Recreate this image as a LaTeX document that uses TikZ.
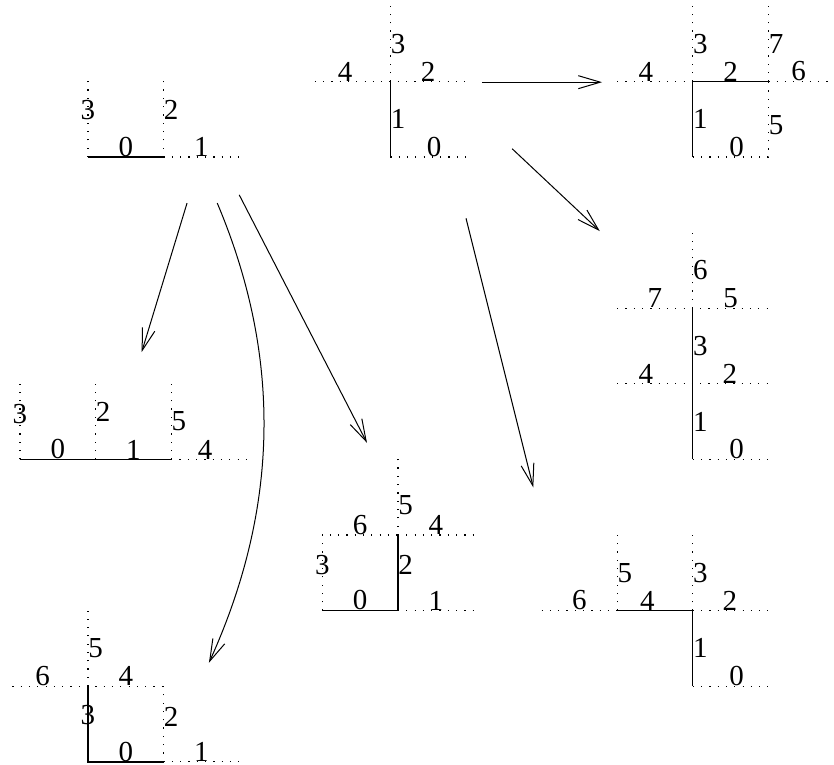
\documentclass[tikz,border=0pt]{standalone}
\usepackage{fontspec}
\setmainfont{Liberation Serif}
\usetikzlibrary{arrows.meta}
\tikzset{
  walk/.style={line width=0.7pt},
  freeedge/.style={line width=0.6pt,dash pattern=on 0.6pt off 3.55pt},
  lab/.style={inner sep=0pt,font=\fontsize{14.5}{16}\selectfont},
  hl/.style={lab,anchor=south},
  vl/.style={lab,anchor=west},
  cl/.style={lab,anchor=center},
  pijl/.style={line width=0.5pt,-{Straight Barb[length=11pt,width=6.5pt]}}
}
\begin{document}
\begin{tikzpicture}[x=37.8pt,y=37.8pt]
\useasboundingbox (-1.164,-8.042) rectangle (9.868,2.077);
% start: 0 with 1,2,3
\begin{scope}[shift={(0,0)}]
\draw[walk] (0,0)--(1,0);
\draw[freeedge] (1,0)--(2,0);
\draw[freeedge] (0,0)--(0,1);
\draw[freeedge] (1,0)--(1,1);
\node[hl] (a0) at (0.5,0) {0};
\node[hl] (a1) at (1.5,0) {1};
\node[cl] (a3) at (0,0.62) {3};
\node[vl] (a2) at (1,0.62) {2};
\end{scope}
% 1 up
\begin{scope}[shift={(4,0)}]
\draw[walk] (0,0)--(0,1);
\draw[freeedge] (0,0)--(1,0);
\draw[freeedge] (-1,1)--(1,1);
\draw[freeedge] (0,1)--(0,2);
\node[hl] (b0) at (0.58,0) {0};
\node[hl] (b2) at (0.5,1) {2};
\node[hl] (b4) at (-0.6,1) {4};
\node[vl] (b1) at (0,0.5) {1};
\node[vl] (b3) at (0,1.5) {3};
\end{scope}
% up, right
\begin{scope}[shift={(8,0)}]
\draw[walk] (0,0)--(0,1)--(1,1);
\draw[freeedge] (0,0)--(1,0)--(1,1);
\draw[freeedge] (-1,1)--(0,1);
\draw[freeedge] (1,1)--(2,1);
\draw[freeedge] (0,1)--(0,2);
\draw[freeedge] (1,1)--(1,2);
\node[hl] (c0) at (0.58,0) {0};
\node[hl] (c2) at (0.5,1) {2};
\node[hl] (c4) at (-0.62,1) {4};
\node[hl] (c6) at (1.4,1) {6};
\node[vl] (c1) at (0,0.5) {1};
\node[vl] (c5) at (1,0.42) {5};
\node[vl] (c3) at (0,1.5) {3};
\node[vl] (c7) at (1,1.5) {7};
\end{scope}
% up, up
\begin{scope}[shift={(8,-4)}]
\draw[walk] (0,0)--(0,2);
\draw[freeedge] (0,0)--(1,0);
\draw[freeedge] (-1,1)--(1,1);
\draw[freeedge] (-1,2)--(1,2);
\draw[freeedge] (0,2)--(0,3);
\node[hl] (d0) at (0.58,0) {0};
\node[hl] (d4) at (-0.62,1) {4};
\node[hl] (d2) at (0.49,1) {2};
\node[hl] (d7) at (-0.5,2) {7};
\node[hl] (d5) at (0.5,2) {5};
\node[vl] (d1) at (0,0.5) {1};
\node[vl] (d3) at (0,1.5) {3};
\node[vl] (d6) at (0,2.5) {6};
\end{scope}
% right, right
\begin{scope}[shift={(-0.9,-4)}]
\draw[walk] (0,0)--(2,0);
\draw[freeedge] (2,0)--(3,0);
\draw[freeedge] (0,0)--(0,1);
\draw[freeedge] (1,0)--(1,1);
\draw[freeedge] (2,0)--(2,1);
\node[hl] (e0) at (0.5,0) {0};
\node[hl] (e1) at (1.5,0) {1};
\node[hl] (e4) at (2.45,0) {4};
\node[cl] (e3) at (0,0.6) {3};
\node[vl] (e2) at (1,0.63) {2};
\node[vl] (e5) at (2,0.5) {5};
\end{scope}
% right, up
\begin{scope}[shift={(3.1,-6)}]
\draw[walk] (0,0)--(1,0)--(1,1);
\draw[freeedge] (1,0)--(2,0);
\draw[freeedge] (0,0)--(0,1)--(1,1);
\draw[freeedge] (1,1)--(2,1);
\draw[freeedge] (1,1)--(1,2);
\node[hl] (f0) at (0.5,0) {0};
\node[hl] (f1) at (1.5,0) {1};
\node[hl] (f6) at (0.5,1) {6};
\node[hl] (f4) at (1.5,1) {4};
\node[cl] (f3) at (0,0.6) {3};
\node[vl] (f2) at (1,0.6) {2};
\node[vl] (f5) at (1,1.4) {5};
\end{scope}
% up, left
\begin{scope}[shift={(8,-7)}]
\draw[walk] (0,0)--(0,1)--(-1,1);
\draw[freeedge] (0,0)--(1,0);
\draw[freeedge] (0,1)--(1,1);
\draw[freeedge] (-2,1)--(-1,1);
\draw[freeedge] (0,1)--(0,2);
\draw[freeedge] (-1,1)--(-1,2);
\node[hl] (g0) at (0.58,0) {0};
\node[hl] (g2) at (0.49,1) {2};
\node[hl] (g4) at (-0.6,1) {4};
\node[hl] (g6) at (-1.5,1) {6};
\node[vl] (g1) at (0,0.5) {1};
\node[vl] (g3) at (0,1.5) {3};
\node[vl] (g5) at (-1,1.5) {5};
\end{scope}
% right, then up from start
\begin{scope}[shift={(0,-8)}]
\draw[walk] (0,1)--(0,0)--(1,0);
\draw[freeedge] (1,0)--(2,0);
\draw[freeedge] (1,0)--(1,1);
\draw[freeedge] (-1,1)--(1,1);
\draw[freeedge] (0,1)--(0,2);
\node[hl] (h0) at (0.5,0) {0};
\node[hl] (h1) at (1.5,0) {1};
\node[hl] (h6) at (-0.6,1) {6};
\node[hl] (h4) at (0.5,1) {4};
\node[cl] (h3) at (0,0.62) {3};
\node[vl] (h2) at (1,0.6) {2};
\node[vl] (h5) at (0,1.5) {5};
\end{scope}
% arrows
\coordinate (bc) at (5.21,0.99);
\coordinate (cb) at (6.80,0.99);
\coordinate (bd) at (5.61,0.11);
\coordinate (db) at (6.77,-0.98);
\coordinate (ae) at (1.31,-0.61);
\coordinate (ea) at (0.71,-2.58);
\coordinate (ah) at (1.71,-0.61);
\coordinate (ha) at (1.60,-6.69);
\coordinate (af) at (2.0,-0.50);
\coordinate (fa) at (3.69,-3.78);
\coordinate (bg) at (5.0,-0.81);
\coordinate (gb) at (5.89,-4.37);
\draw[pijl] (bc)--(cb);
\draw[pijl] (bd)--(db);
\draw[pijl] (ae)--(ea);
\draw[pijl] (ah) .. controls (2.55,-2.6) and (2.55,-4.6) .. (ha);
\draw[pijl] (af)--(fa);
\draw[pijl] (bg)--(gb);
\end{tikzpicture}
\end{document}
